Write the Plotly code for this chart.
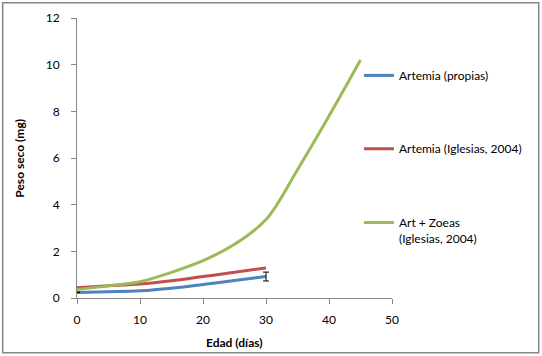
import plotly.graph_objects as go

# Data
dias_propias = [0, 5, 10, 15, 20, 25, 30]
peso_propias = [0.24, 0.27, 0.31, 0.42, 0.58, 0.75, 0.92]

dias_iglesias = [0, 5, 10, 15, 20, 25, 30]
peso_iglesias = [0.44, 0.52, 0.60, 0.74, 0.92, 1.10, 1.29]

dias_zoeas = [0, 5, 10, 15, 20, 25, 30, 35, 40, 45]
peso_zoeas = [0.36, 0.52, 0.70, 1.10, 1.60, 2.30, 3.36, 5.50, 7.80, 10.20]

dias_error = [0, 30]
peso_error = [0.24, 0.92]
error_vals = [0.01, 0.19]

FONT = "Lato"
AXIS_COLOR = "#868686"

fig = go.Figure()

fig.add_trace(go.Scatter(
    x=dias_propias, y=peso_propias, mode="lines",
    line=dict(color="#4F81BD", width=3, shape="spline", smoothing=1),
    name="Artemia (propias)", legend="legend",
))
fig.add_trace(go.Scatter(
    x=dias_iglesias, y=peso_iglesias, mode="lines",
    line=dict(color="#C0504D", width=3, shape="spline", smoothing=1),
    name="Artemia (Iglesias, 2004)", legend="legend2",
))
fig.add_trace(go.Scatter(
    x=dias_zoeas, y=peso_zoeas, mode="lines",
    line=dict(color="#9BBB59", width=3, shape="spline", smoothing=1),
    name="Art + Zoeas<br>(Iglesias, 2004)", legend="legend3",
))
fig.add_trace(go.Scatter(
    x=dias_error, y=peso_error, mode="markers",
    marker=dict(size=1, color="rgba(0,0,0,0)"),
    error_y=dict(type="data", array=error_vals, color="black", thickness=1, width=3),
    showlegend=False, cliponaxis=False, hoverinfo="skip",
))

axis_common = dict(
    showline=True, linecolor=AXIS_COLOR, linewidth=1,
    ticks="outside", ticklen=5, tickcolor=AXIS_COLOR,
    showgrid=False, zeroline=False, automargin=False,
    tickfont=dict(family=FONT, size=12, color="black"),
)

leg_common = dict(
    xanchor="left", yanchor="middle", bgcolor="rgba(0,0,0,0)",
    font=dict(family=FONT, size=12, color="black"),
    itemwidth=30,
)

fig.update_layout(
    width=542, height=356,
    margin=dict(l=77, r=150, t=18, b=58, autoexpand=False),
    paper_bgcolor="white", plot_bgcolor="white",
    xaxis=dict(range=[0, 50], dtick=10, ticklabelstandoff=6, **axis_common),
    yaxis=dict(range=[0, 12], dtick=2, ticklabelstandoff=9, **axis_common),
    legend=dict(x=0.895, y=0.795, **leg_common),
    legend2=dict(x=0.895, y=0.533, **leg_common),
    legend3=dict(x=0.895, y=0.24, valign="top", **leg_common),
    annotations=[
        dict(text="<b>Edad (días)</b>", xref="paper", yref="paper",
             x=0.5, y=(298.3 - 343) / 280, xanchor="center", yanchor="middle",
             showarrow=False, font=dict(family=FONT, size=12, color="black")),
        dict(text="<b>Peso seco (mg)</b>", xref="paper", yref="paper",
             x=(19 - 77.3) / 315, y=0.5, xanchor="center", yanchor="middle",
             textangle=-90, showarrow=False,
             font=dict(family=FONT, size=12, color="black")),
    ],
    shapes=[
        dict(type="rect", xref="paper", yref="paper",
             x0=(3 - 77.3) / 315, x1=(539 - 77.3) / 315,
             y0=(298.3 - 353) / 280, y1=(298.3 - 3) / 280,
             line=dict(color=AXIS_COLOR, width=1.5), fillcolor="rgba(0,0,0,0)"),
    ],
)

fig.write_html(
    "out.html",
    config={"displayModeBar": False},
    post_script="document.body.style.margin='0';document.body.style.overflow='hidden';",
)
